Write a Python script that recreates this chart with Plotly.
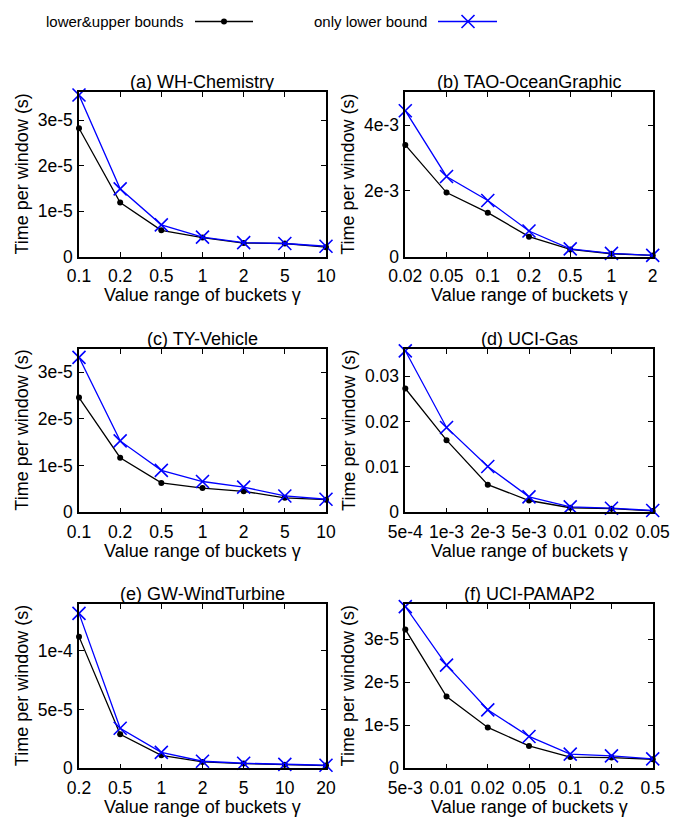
import plotly.graph_objects as go

# ---------------- data ----------------
series_names = ["lower&upper bounds", "only lower bound"]
titles = ["(a) WH-Chemistry", "(b) TAO-OceanGraphic", "(c) TY-Vehicle",
          "(d) UCI-Gas", "(e) GW-WindTurbine", "(f) UCI-PAMAP2"]

cats_a = ["0.1", "0.2", "0.5", "1", "2", "5", "10"]
a_lu = [2.82e-5, 1.19e-5, 0.58e-5, 0.42e-5, 0.30e-5, 0.29e-5, 0.21e-5]
a_lo = [3.55e-5, 1.49e-5, 0.70e-5, 0.43e-5, 0.31e-5, 0.29e-5, 0.23e-5]
yt_a = [0, 1e-5, 2e-5, 3e-5]
yl_a = ["0", "1e-5", "2e-5", "3e-5"]
ymax_a = 3.61e-5

cats_b = ["0.02", "0.05", "0.1", "0.2", "0.5", "1", "2"]
b_lu = [3.40e-3, 1.95e-3, 1.34e-3, 0.61e-3, 0.22e-3, 0.09e-3, 0.04e-3]
b_lo = [4.44e-3, 2.44e-3, 1.71e-3, 0.78e-3, 0.24e-3, 0.10e-3, 0.04e-3]
yt_b = [0, 2e-3, 4e-3]
yl_b = ["0", "2e-3", "4e-3"]
ymax_b = 5e-3

cats_c = ["0.1", "0.2", "0.5", "1", "2", "5", "10"]
c_lu = [2.46e-5, 1.17e-5, 0.63e-5, 0.52e-5, 0.45e-5, 0.31e-5, 0.27e-5]
c_lo = [3.32e-5, 1.53e-5, 0.90e-5, 0.66e-5, 0.54e-5, 0.35e-5, 0.28e-5]
yt_c = [0, 1e-5, 2e-5, 3e-5]
yl_c = ["0", "1e-5", "2e-5", "3e-5"]
ymax_c = 3.5e-5

cats_d = ["5e-4", "1e-3", "2e-3", "5e-3", "0.01", "0.02", "0.05"]
d_lu = [0.0273, 0.0159, 0.0061, 0.0026, 0.0010, 0.0008, 0.0003]
d_lo = [0.0356, 0.0187, 0.0101, 0.0034, 0.0012, 0.0009, 0.0004]
yt_d = [0, 0.01, 0.02, 0.03]
yl_d = ["0", "0.01", "0.02", "0.03"]
ymax_d = 0.036

cats_e = ["0.2", "0.5", "1", "2", "5", "10", "20"]
e_lu = [1.122e-4, 2.90e-5, 1.11e-5, 0.54e-5, 0.40e-5, 0.31e-5, 0.23e-5]
e_lo = [1.32e-4, 3.41e-5, 1.36e-5, 0.60e-5, 0.43e-5, 0.34e-5, 0.26e-5]
yt_e = [0, 5e-5, 1e-4]
yl_e = ["0", "5e-5", "1e-4"]
ymax_e = 1.4e-4

cats_f = ["5e-3", "0.01", "0.02", "0.05", "0.1", "0.2", "0.5"]
f_lu = [3.23e-5, 1.67e-5, 0.95e-5, 0.52e-5, 0.26e-5, 0.25e-5, 0.21e-5]
f_lo = [3.76e-5, 2.40e-5, 1.36e-5, 0.74e-5, 0.33e-5, 0.29e-5, 0.22e-5]
yt_f = [0, 1e-5, 2e-5, 3e-5]
yl_f = ["0", "1e-5", "2e-5", "3e-5"]
ymax_f = 3.82e-5

xlabel = "Value range of buckets \u03b3"
ylabel = "Time per window (s)"

# ---------------- layout helpers ----------------
W, H = 684, 820
FONT = "Liberation Sans, Arial, Helvetica, sans-serif"
FS = 18      # titles
TFS = 17.5   # tick labels

# pixel boxes of the six plot areas (left, right, top, bottom)
boxes = [
    (79, 326, 92.3, 256.7), (405.3, 652.7, 92.3, 256.7),
    (79, 326, 349, 512.3), (405.3, 652.7, 349, 512.3),
    (79, 326, 604, 768.3), (405.3, 652.7, 604, 768.3),
]

panels = [
    (cats_a, a_lu, a_lo, yt_a, yl_a, ymax_a),
    (cats_b, b_lu, b_lo, yt_b, yl_b, ymax_b),
    (cats_c, c_lu, c_lo, yt_c, yl_c, ymax_c),
    (cats_d, d_lu, d_lo, yt_d, yl_d, ymax_d),
    (cats_e, e_lu, e_lo, yt_e, yl_e, ymax_e),
    (cats_f, f_lu, f_lo, yt_f, yl_f, ymax_f),
]

fig = go.Figure()
annotations = []
shapes = []

for i, ((cats, lu, lo, yt, yl, ymax), (l, r, t, b)) in enumerate(zip(panels, boxes)):
    n = i + 1
    xa = "x" if n == 1 else f"x{n}"
    ya = "y" if n == 1 else f"y{n}"
    fig.add_trace(go.Scatter(
        x=cats, y=lu, xaxis=xa, yaxis=ya, mode="lines+markers",
        name=series_names[0], showlegend=False, cliponaxis=False,
        line=dict(color="#000000", width=1.3),
        marker=dict(symbol="circle", size=6, color="#000000")))
    fig.add_trace(go.Scatter(
        x=cats, y=lo, xaxis=xa, yaxis=ya, mode="lines+markers",
        name=series_names[1], showlegend=False, cliponaxis=False,
        line=dict(color="#0000ff", width=1.3),
        marker=dict(symbol="x-thin-open", size=13,
                    line=dict(color="#0000ff", width=1.6))))
    axcommon = dict(showline=True, linecolor="black", linewidth=1.5,
                    mirror="ticks", ticks="inside", ticklen=5, tickwidth=1.2,
                    tickcolor="black", showgrid=False, zeroline=False,
                    automargin=False,
                    tickfont=dict(family=FONT, size=TFS, color="black"))
    xkey = "xaxis" if n == 1 else f"xaxis{n}"
    ykey = "yaxis" if n == 1 else f"yaxis{n}"
    fig.update_layout(**{
        xkey: dict(axcommon, domain=[l / W, r / W], anchor=ya, type="category",
                   range=[0, len(cats) - 1], ticklabelstandoff=3),
        ykey: dict(axcommon, domain=[1 - b / H, 1 - t / H], anchor=xa,
                   range=[0, ymax], tickvals=yt, ticktext=yl,
                   ticklabelstandoff=1),
    })
    cx = (l + r) / 2 / W
    annotations.append(dict(text=titles[i], x=cx, y=1 - (t - 10) / H,
                            xref="paper", yref="paper", showarrow=False,
                            xanchor="center", yanchor="middle",
                            font=dict(family=FONT, size=FS, color="black")))
    annotations.append(dict(text=xlabel, x=cx, y=1 - (b + 38.5) / H,
                            xref="paper", yref="paper", showarrow=False,
                            xanchor="center", yanchor="middle",
                            font=dict(family=FONT, size=FS, color="black")))
    annotations.append(dict(text=ylabel, x=(l - 57) / W, y=1 - (t + b) / 2 / H,
                            xref="paper", yref="paper", showarrow=False,
                            textangle=-90, xanchor="center", yanchor="middle",
                            font=dict(family=FONT, size=FS, color="black")))

# ---------------- key (text first, then sample, gnuplot style) ----------------
LFS = 15
ky = 1 - 21.5 / H
annotations.append(dict(text=series_names[0], x=186 / W, y=ky, xref="paper",
                        yref="paper", showarrow=False, xanchor="right",
                        yanchor="middle",
                        font=dict(family=FONT, size=LFS, color="black")))
annotations.append(dict(text=series_names[1], x=429 / W, y=ky, xref="paper",
                        yref="paper", showarrow=False, xanchor="right",
                        yanchor="middle",
                        font=dict(family=FONT, size=LFS, color="black")))
shapes.append(dict(type="line", xref="paper", yref="paper", x0=195 / W,
                   x1=253 / W, y0=ky, y1=ky, line=dict(color="black", width=1.5)))
shapes.append(dict(type="circle", xref="paper", yref="paper",
                   x0=221 / W, x1=227 / W, y0=ky - 3 / H, y1=ky + 3 / H,
                   fillcolor="black", line=dict(color="black", width=0)))
shapes.append(dict(type="line", xref="paper", yref="paper", x0=438 / W,
                   x1=497 / W, y0=ky, y1=ky, line=dict(color="#0000ff", width=1.5)))
shapes.append(dict(type="line", xref="paper", yref="paper", x0=461.5 / W,
                   x1=474.5 / W, y0=ky - 6.5 / H, y1=ky + 6.5 / H,
                   line=dict(color="#0000ff", width=1.6)))
shapes.append(dict(type="line", xref="paper", yref="paper", x0=461.5 / W,
                   x1=474.5 / W, y0=ky + 6.5 / H, y1=ky - 6.5 / H,
                   line=dict(color="#0000ff", width=1.6)))

fig.update_layout(width=W, height=H,
                  margin=dict(l=0, r=0, t=0, b=0, pad=0, autoexpand=False),
                  paper_bgcolor="white", plot_bgcolor="white",
                  showlegend=False, annotations=annotations, shapes=shapes,
                  font=dict(family=FONT, size=FS, color="black"))

fig.write_html("out.html", config={"displayModeBar": False},
               post_script="document.body.style.margin='0px';"
                           "document.body.style.overflow='hidden';")
